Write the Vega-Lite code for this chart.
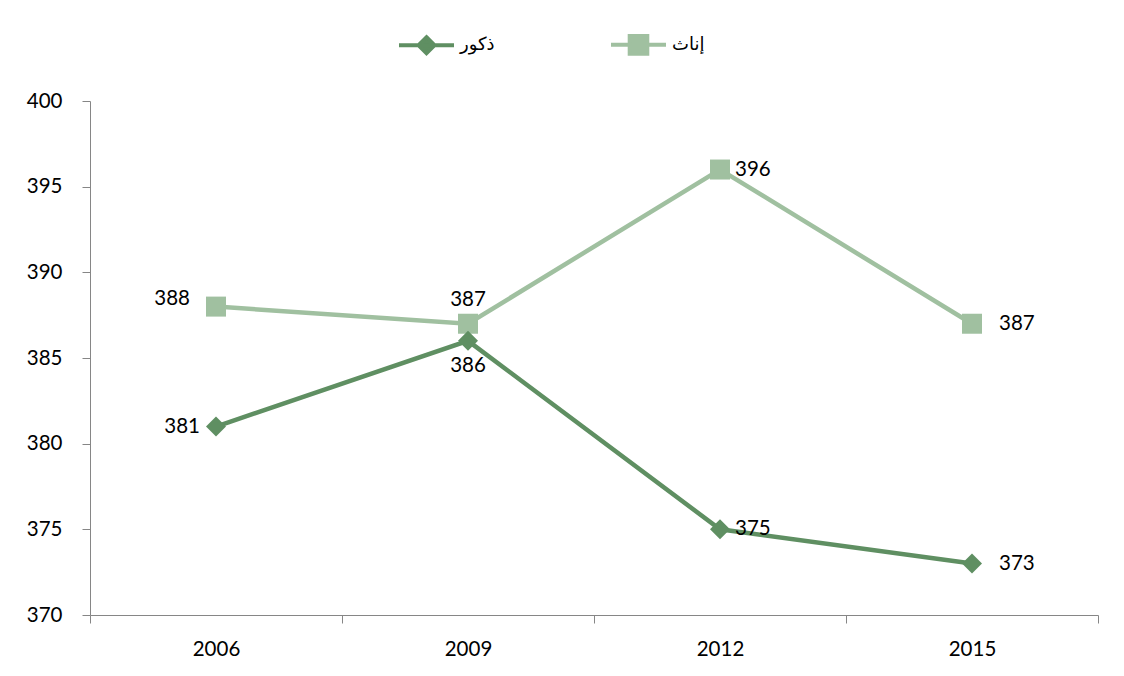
{
  "$schema": "https://vega.github.io/schema/vega-lite/v6.json",
  "width": 1008,
  "height": 514,
  "autosize": {"type": "none"},
  "padding": {"left": 90, "top": 101, "right": 26, "bottom": 61},
  "background": "white",
  "config": {
    "view": {"stroke": null},
    "font": "Lato",
    "legend": {"padding": 0},
    "axis": {"grid": false, "domainColor": "#868686", "tickColor": "#868686", "labelColor": "#000000", "labelFont": "Lato", "labelFontSize": 20.5, "domainWidth": 1, "tickWidth": 1, "tickSize": 8}
  },
  "data": {
    "values": [
      {"year": "2006", "series": "ذكور", "value": 381},
      {"year": "2009", "series": "ذكور", "value": 386},
      {"year": "2012", "series": "ذكور", "value": 375},
      {"year": "2015", "series": "ذكور", "value": 373},
      {"year": "2006", "series": "إناث", "value": 388},
      {"year": "2009", "series": "إناث", "value": 387},
      {"year": "2012", "series": "إناث", "value": 396},
      {"year": "2015", "series": "إناث", "value": 387}
    ]
  },
  "encoding": {
    "x": {"field": "year", "type": "ordinal", "scale": {"type": "band", "paddingInner": 0, "paddingOuter": 0}, "axis": {"title": null, "labelAngle": 0, "tickBand": "extent", "labelPadding": 16}},
    "y": {"field": "value", "type": "quantitative", "scale": {"domain": [370, 400], "nice": false, "zero": false}, "axis": {"title": null, "values": [370, 375, 380, 385, 390, 395, 400], "labelPadding": 20}}
  },
  "layer": [
    {
      "mark": {"type": "line", "strokeWidth": 4.5},
      "encoding": {
        "color": {"field": "series", "type": "nominal", "scale": {"domain": ["ذكور", "إناث"], "range": ["#5f8f62", "#a0c0a0"]},
          "legend": {"title": null, "orient": "none", "legendX": 307, "legendY": -86, "direction": "horizontal", "labelFontSize": 18, "labelFont": "DejaVu Sans", "labelColor": "#000000", "symbolSize": 3025, "symbolStrokeWidth": 4, "columnPadding": 108, "labelOffset": 4,
            "encode": {"symbols": {"update": {
              "shape": {"signal": "datum.value == 'ذكور' ? 'M-1,0H1M0,-0.29L0.29,0L0,0.29L-0.29,0Z' : 'M-1,0H1M-0.32,-0.32H0.32V0.32H-0.32Z'"},
              "fill": {"signal": "datum.value == 'ذكور' ? '#5f8f62' : '#a0c0a0'"},
              "stroke": {"signal": "datum.value == 'ذكور' ? '#5f8f62' : '#a0c0a0'"},
              "fillOpacity": {"value": 1},
              "strokeWidth": {"value": 4},
              "opacity": {"value": 1}
            }}}}},
        "order": {"field": "year"}
      }
    },
    {
      "transform": [{"filter": "datum.series == 'إناث'"}],
      "mark": {"type": "point", "shape": "square", "filled": true, "size": 400, "opacity": 1, "color": "#a0c0a0"}
    },
    {
      "transform": [{"filter": "datum.series == 'ذكور'"}],
      "mark": {"type": "point", "shape": "diamond", "filled": true, "size": 400, "opacity": 1, "color": "#5f8f62"}
    },
    {
      "transform": [{"filter": "datum.year == '2012'"}],
      "mark": {"type": "text", "align": "left", "baseline": "middle", "dx": 15, "fontSize": 20.5, "font": "Lato", "color": "#000000"},
      "encoding": {"text": {"field": "value", "type": "quantitative"}}
    },
    {
      "transform": [{"filter": "datum.year == '2015'"}],
      "mark": {"type": "text", "align": "left", "baseline": "middle", "dx": 27, "fontSize": 20.5, "font": "Lato", "color": "#000000"},
      "encoding": {"text": {"field": "value", "type": "quantitative"}}
    },
    {
      "transform": [{"filter": "datum.year == '2006' && datum.series == 'ذكور'"}],
      "mark": {"type": "text", "align": "right", "baseline": "middle", "dx": -16, "fontSize": 20.5, "font": "Lato", "color": "#000000"},
      "encoding": {"text": {"field": "value", "type": "quantitative"}}
    },
    {
      "transform": [{"filter": "datum.year == '2006' && datum.series == 'إناث'"}],
      "mark": {"type": "text", "align": "right", "baseline": "middle", "dx": -26, "dy": -8, "fontSize": 20.5, "font": "Lato", "color": "#000000"},
      "encoding": {"text": {"field": "value", "type": "quantitative"}}
    },
    {
      "transform": [{"filter": "datum.year == '2009' && datum.series == 'إناث'"}],
      "mark": {"type": "text", "align": "center", "baseline": "middle", "dy": -24, "fontSize": 20.5, "font": "Lato", "color": "#000000"},
      "encoding": {"text": {"field": "value", "type": "quantitative"}}
    },
    {
      "transform": [{"filter": "datum.year == '2009' && datum.series == 'ذكور'"}],
      "mark": {"type": "text", "align": "center", "baseline": "middle", "dy": 25, "fontSize": 20.5, "font": "Lato", "color": "#000000"},
      "encoding": {"text": {"field": "value", "type": "quantitative"}}
    }
  ]
}
